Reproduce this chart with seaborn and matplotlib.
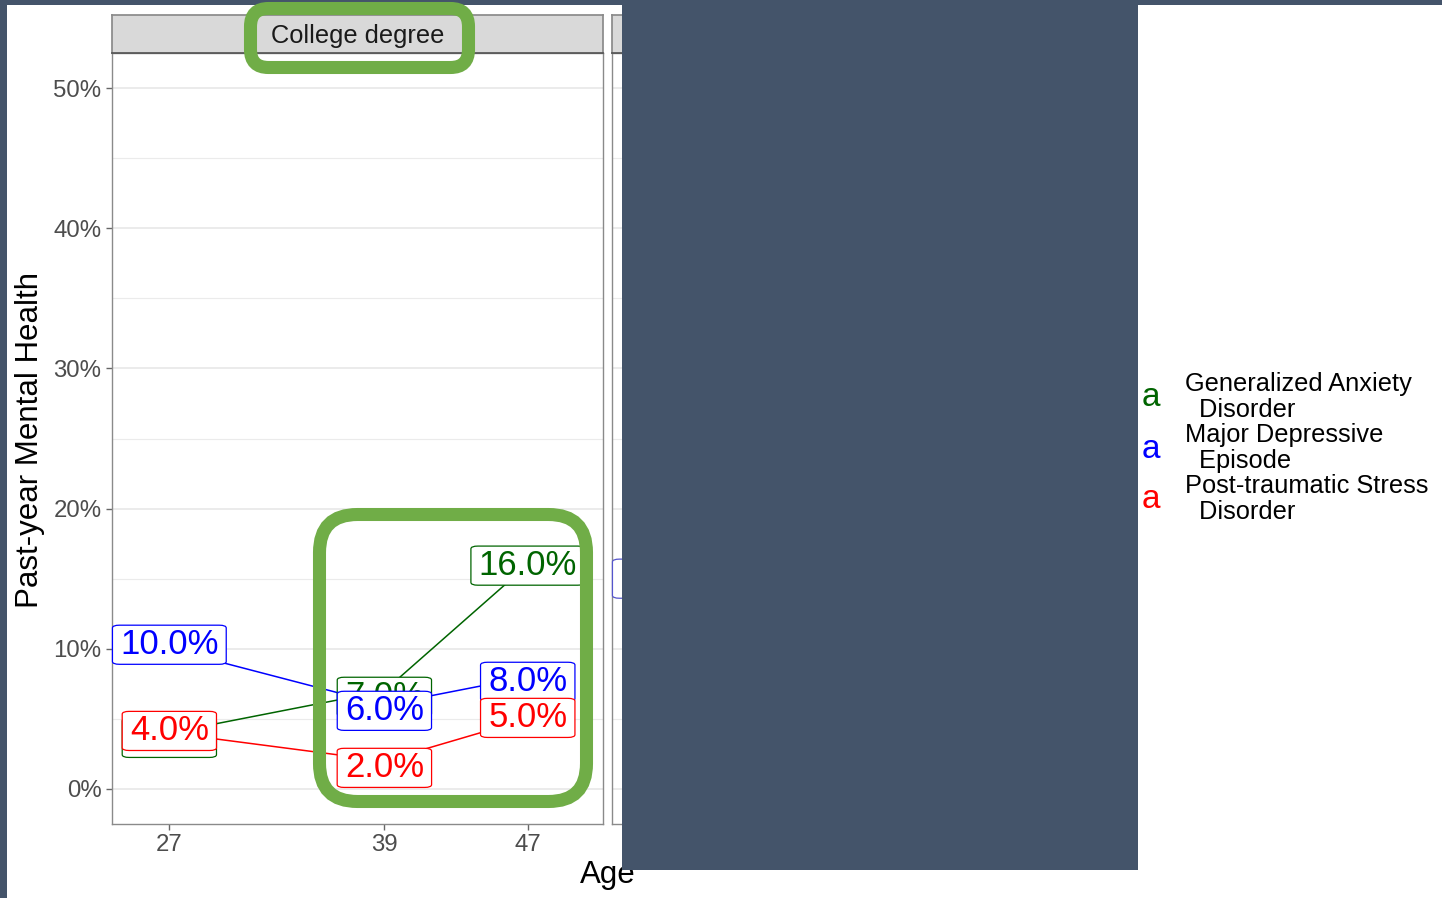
import numpy as np
import pandas as pd
import matplotlib
matplotlib.use("Agg")
import matplotlib.pyplot as plt
import seaborn as sns
from matplotlib.patches import FancyBboxPatch, Rectangle
from matplotlib.transforms import IdentityTransform
from matplotlib.ticker import PercentFormatter, MultipleLocator

# data (percent)
ages = [27, 39, 47]
conditions = ["Generalized Anxiety Disorder", "Major Depressive Episode",
              "Post-traumatic Stress Disorder"]
gad = [4.0, 7.0, 16.0]
mde = [10.0, 6.0, 8.0]
ptsd = [4.0, 2.0, 5.0]
legend_labels = ["Generalized Anxiety\n  Disorder", "Major Depressive\n  Episode",
                 "Post-traumatic Stress\n  Disorder"]
panel_titles = ["College degree", ""]
# second facet is hidden behind the slide box, only one label edge shows
other_ages = [27]
other_mde = [15.0]

colors = ["#006400", "#0000FF", "#FF0000"]
palette = dict(zip(conditions, colors))

# ggrepel-style vertical shifts of the labels (points), same order as the data
label_shift = {
    conditions[0]: [-3.6, -4.3, -0.7],
    conditions[1]: [2.9, -4.3, -3.6],
    conditions[2]: [1.4, -5.0, 0.7],
}

df = pd.DataFrame({
    "age": ages * 3,
    "pct": gad + mde + ptsd,
    "condition": np.repeat(conditions, len(ages)),
})

sns.set_theme(style="white")
plt.rcParams["font.family"] = ["Liberation Sans", "DejaVu Sans"]

W, H = 1442, 898
fig = plt.figure(figsize=(W / 100, H / 100), dpi=100)
fig.patch.set_facecolor("white")


def rect(x0, y0, x1, y1):
    return [x0 / W, 1 - y1 / H, (x1 - x0) / W, (y1 - y0) / H]


slate = "#44546A"
border = "#8a8a8a"
grid_c = "#ebebeb"

ax1 = fig.add_axes(rect(112, 53, 603, 824))
ax2 = fig.add_axes(rect(612, 53, 1103, 824))

for ax in [ax1, ax2]:
    ax.set_xlim(23.8, 51.2)
    ax.set_ylim(-2.5, 52.5)
    ax.yaxis.set_major_locator(MultipleLocator(10))
    ax.yaxis.set_minor_locator(MultipleLocator(5))
    ax.set_xticks(ages)
    ax.yaxis.set_major_formatter(PercentFormatter(decimals=0))
    ax.grid(axis="y", which="major", color=grid_c, lw=1.4)
    ax.grid(axis="y", which="minor", color=grid_c, lw=0.8)
    ax.set_axisbelow(True)
    for s in ax.spines.values():
        s.set_color(border)
        s.set_linewidth(1.0)
    ax.tick_params(axis="both", which="major", length=4.5, width=1, color="#666666",
                   labelsize=17.3, labelcolor="#4d4d4d", pad=3, left=True, bottom=True)
    ax.tick_params(axis="y", which="minor", length=0)
    ax.set_xlabel("")
    ax.set_ylabel("")

ax2.tick_params(axis="y", labelleft=False, left=False)

sns.lineplot(data=df, x="age", y="pct", hue="condition", palette=palette,
             linewidth=1.1, legend=False, ax=ax1, zorder=2)
ax1.set_xlabel("")
ax1.set_ylabel("")

box_kw = dict(boxstyle="round,pad=0.22,rounding_size=0.2", mutation_aspect=0.4,
              fc="white", lw=0.9)
for k, (cond, vals) in enumerate(zip(conditions, [gad, mde, ptsd])):
    for a, v, dy in zip(ages, vals, label_shift[cond]):
        ax1.annotate(f"{v:.1f}%", (a, v), xytext=(0, dy), textcoords="offset points",
                     ha="center", va="center", fontsize=25, color=colors[k],
                     bbox=dict(ec=colors[k], **box_kw), zorder=3 + k)

for a, v in zip(other_ages, other_mde):
    ax2.annotate(f"{v:.1f}%", (a, v), ha="center", va="center", fontsize=25,
                 color=colors[1], bbox=dict(ec="#5555cc", **box_kw),
                 annotation_clip=False, zorder=4)

# facet strips
for (x0, x1), title in zip([(112, 603), (612, 1103)], panel_titles):
    sax = fig.add_axes(rect(x0, 15, x1, 53))
    sax.set_facecolor("#d9d9d9")
    sax.set_xticks([])
    sax.set_yticks([])
    for s in sax.spines.values():
        s.set_color(border)
    sax.spines["bottom"].set_color("#555555")
    sax.text(0.5, 0.44, title, ha="center", va="center", fontsize=18.3,
             color="#1a1a1a", transform=sax.transAxes)

fig.text(608 / W, 1 - 875 / H, "Age", ha="center", va="center", fontsize=22.5,
         color="black")
fig.text(30 / W, 1 - 440 / H, "Past-year Mental Health", ha="center", va="center",
         rotation=90, fontsize=22.5, color="black")

# legend (label glyph keys)
for k, (lab, c) in enumerate(zip(legend_labels, colors)):
    yc = 397 + 51 * k
    fig.text(1151 / W, 1 - (yc + 1) / H, "a", ha="center", va="center", fontsize=24,
             color=c)
    fig.text(1185 / W, 1 - yc / H, lab, ha="left", va="center", fontsize=18.3,
             color="black", linespacing=1.12)

idt = IdentityTransform()

# slide background pieces
fig.add_artist(Rectangle((0, H - 5), W, 5, transform=idt, fc=slate, ec="none", zorder=20))
fig.add_artist(Rectangle((0, 0), 7, H, transform=idt, fc=slate, ec="none", zorder=20))
fig.add_artist(Rectangle((622, H - 870), 1138 - 622, 870 - 5, transform=idt,
                         fc=slate, ec="none", zorder=20))

# green highlight frames
hl = "#70AD47"
for (x0, y0, x1, y1, r) in [(250.5, 8.5, 468.5, 67.5, 18), (319.5, 514.5, 586.5, 801.5, 38)]:
    fig.add_artist(FancyBboxPatch((x0, H - y1), x1 - x0, y1 - y0,
                                  boxstyle=f"round,pad=0,rounding_size={r}",
                                  transform=idt, fc="none", ec=hl, lw=9.4, zorder=25))

fig.savefig("out.png", dpi=100)
